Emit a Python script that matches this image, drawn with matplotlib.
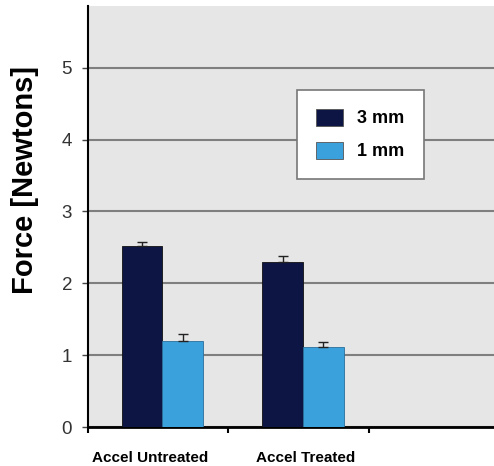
import matplotlib.pyplot as plt
from matplotlib.ticker import FixedLocator

# values
groups = ["Accel Untreated", "Accel Treated"]
force_3mm = [2.52, 2.30]
err_3mm = [0.05, 0.08]
force_1mm = [1.20, 1.11]
err_1mm = [0.10, 0.08]
series_names = ["3 mm", "1 mm"]
y_ticks = [0, 1, 2, 3, 4, 5]

plt.rcParams["font.family"] = ["Liberation Sans", "DejaVu Sans"]

fig = plt.figure(figsize=(4.94, 4.66), dpi=100)
ax = fig.add_axes([88 / 494, 39 / 466, 406 / 494, 421 / 466])
ax.set_facecolor("#e6e6e6")

width = 0.29
pos = [i + 0.53 for i in range(len(groups))]
ax.bar([p - width / 2 for p in pos], force_3mm, width, color="#0c1543",
       edgecolor="#111111", linewidth=0.6, label=series_names[0], zorder=3,
       yerr=[[0] * len(err_3mm), err_3mm], capsize=3.5,
       error_kw=dict(ecolor="#222222", elinewidth=1, capthick=1))
ax.bar([p + width / 2 for p in pos], force_1mm, width, color="#3ba1dc",
       edgecolor="#2a6f9a", linewidth=0.6, label=series_names[1], zorder=3,
       yerr=[[0] * len(err_1mm), err_1mm], capsize=3.5,
       error_kw=dict(ecolor="#222222", elinewidth=1, capthick=1))

ax.set_xlim(0, 2.89)
ax.set_ylim(0, 5.86)
ax.set_yticks(y_ticks)
ax.yaxis.grid(True, color="#7f7f7f", linewidth=1.5, zorder=1)
ax.set_axisbelow(True)

# boundary ticks between categories, labels in the middle
ax.xaxis.set_major_locator(FixedLocator([0, 1, 2]))
ax.xaxis.set_major_formatter(plt.NullFormatter())
ax.xaxis.set_minor_locator(FixedLocator([0.44, 1.55]))
ax.set_xticklabels(groups, minor=True, fontsize=11, fontweight="bold")
ax.tick_params(axis="x", which="minor", length=0, pad=17)
ax.tick_params(axis="x", which="major", length=4, width=1.5, direction="out")
ax.tick_params(axis="y", length=4.5, width=1, color="#444444", pad=7,
               labelsize=13.5, labelcolor="#333333")

for side in ["top", "right"]:
    ax.spines[side].set_visible(False)
ax.spines["left"].set_linewidth(1.5)
ax.spines["bottom"].set_linewidth(2)

ax.set_ylabel("Force [Newtons]", fontsize=21, fontweight="bold")
ax.yaxis.set_label_coords(-0.12, 0.587)

leg = ax.legend(loc="upper left", bbox_to_anchor=(297 / 494, 1 - 90 / 466),
                bbox_transform=fig.transFigure, borderaxespad=0,
                fancybox=False, edgecolor="#777777", framealpha=1,
                prop=dict(weight="bold", size=13), borderpad=1.05,
                labelspacing=0.8, handlelength=1.5, handleheight=1.05,
                handletextpad=0.8)
leg.get_frame().set_linewidth(1.2)
for h in leg.legend_handles:
    h.set_edgecolor("#555555")

fig.savefig("out.png", dpi=100)
